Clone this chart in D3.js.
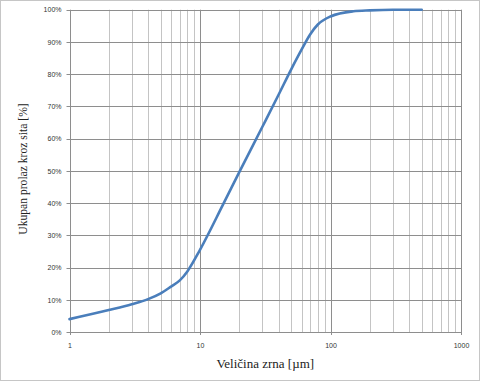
<!DOCTYPE html>
<html>
<head>
<meta charset="utf-8">
<script src="https://cdn.jsdelivr.net/npm/d3@7"></script>
<style>
  html, body { margin: 0; padding: 0; background: #fff; }
  svg { display: block; }
</style>
</head>
<body>
<svg id="chart" width="480" height="381"></svg>
<script>
// Data
const grainSizes = [1, 2, 3, 4, 5, 6, 7, 8, 10, 15, 20, 30, 40, 50, 60, 70, 80, 100, 150, 200, 300, 500];
const passingPct = [4.0, 6.8, 8.6, 10.2, 12.0, 14.1, 16.0, 18.8, 25.5, 39.5, 49.6, 63.6, 73.6, 81.5, 87.6, 92.4, 95.4, 97.9, 99.5, 99.8, 100, 100];
const yTickValues = [0, 10, 20, 30, 40, 50, 60, 70, 80, 90, 100];
const xTickLabels = [1, 10, 100, 1000];
const xTitle = "Veličina zrna [µm]";
const yTitle = "Ukupan prolaz kroz sita [%]";

(function () {
const svg = d3.select("#chart");
const W = 480, H = 381;
const pLeft = 69.5, pRight = 461, pTop = 9.7, pBottom = 332;

// outer border
svg.append("rect").attr("x", 0.5).attr("y", 0.5).attr("width", W - 1).attr("height", H - 1)
  .attr("fill", "#fff").attr("stroke", "#c6c6c6");

const x = d3.scaleLog().domain([1, 1000]).range([pLeft, pRight]);
const y = d3.scaleLinear().domain([0, 100]).range([pBottom, pTop]);

const isMajor = v => Math.abs(Math.log10(v) - Math.round(Math.log10(v))) < 1e-9;
const allXTicks = x.ticks();

// minor vertical gridlines
svg.append("g").selectAll("line").data(allXTicks.filter(v => !isMajor(v))).join("line")
  .attr("x1", d => Math.round(x(d)) + 0.5).attr("x2", d => Math.round(x(d)) + 0.5)
  .attr("y1", pTop).attr("y2", pBottom)
  .attr("stroke", "#c4c4c4").attr("stroke-width", 1);

// horizontal gridlines
svg.append("g").selectAll("line").data(yTickValues).join("line")
  .attr("x1", pLeft - 3).attr("x2", pRight)
  .attr("y1", d => Math.round(y(d)) + 0.5).attr("y2", d => Math.round(y(d)) + 0.5)
  .attr("stroke", "#8e8e8e").attr("stroke-width", 1);

// major vertical gridlines
svg.append("g").selectAll("line").data(allXTicks.filter(isMajor)).join("line")
  .attr("x1", d => Math.round(x(d)) + 0.5).attr("x2", d => Math.round(x(d)) + 0.5)
  .attr("y1", pTop).attr("y2", pBottom + 3)
  .attr("stroke", "#8e8e8e").attr("stroke-width", 1);

// axes labels through d3 axes
const yAxis = d3.axisLeft(y).tickValues(yTickValues).tickSize(0).tickPadding(8)
  .tickFormat(d => d + "%");
const gy = svg.append("g").attr("transform", `translate(${pLeft},0)`).call(yAxis);
gy.select(".domain").remove();
gy.selectAll("text").attr("font-family", "Liberation Sans, Arial, sans-serif")
  .attr("font-size", 7).attr("fill", "#333");

const xAxis = d3.axisBottom(x).tickValues(xTickLabels).tickSize(0).tickPadding(11)
  .tickFormat(d => String(d));
const gx = svg.append("g").attr("transform", `translate(0,${pBottom})`).call(xAxis);
gx.select(".domain").remove();
gx.selectAll("text").attr("font-family", "Liberation Sans, Arial, sans-serif")
  .attr("font-size", 7).attr("fill", "#333");

// curve
const line = d3.line()
  .x((d, i) => x(grainSizes[i]))
  .y((d, i) => y(passingPct[i]))
  .curve(d3.curveMonotoneX);
svg.append("path").datum(passingPct)
  .attr("d", line)
  .attr("fill", "none")
  .attr("stroke", "#4a7ebb")
  .attr("stroke-width", 2.6)
  .attr("stroke-linecap", "round");

// titles
svg.append("text").attr("x", (pLeft + pRight) / 2).attr("y", 368)
  .attr("text-anchor", "middle")
  .attr("font-family", "Liberation Serif, Times New Roman, serif")
  .attr("font-size", 13).attr("fill", "#222")
  .text(xTitle);

svg.append("text").attr("transform", "translate(27,169) rotate(-90)")
  .attr("text-anchor", "middle")
  .attr("font-family", "Liberation Serif, Times New Roman, serif")
  .attr("font-size", 11.6).attr("fill", "#222")
  .text(yTitle);
})();
</script>
</body>
</html>
